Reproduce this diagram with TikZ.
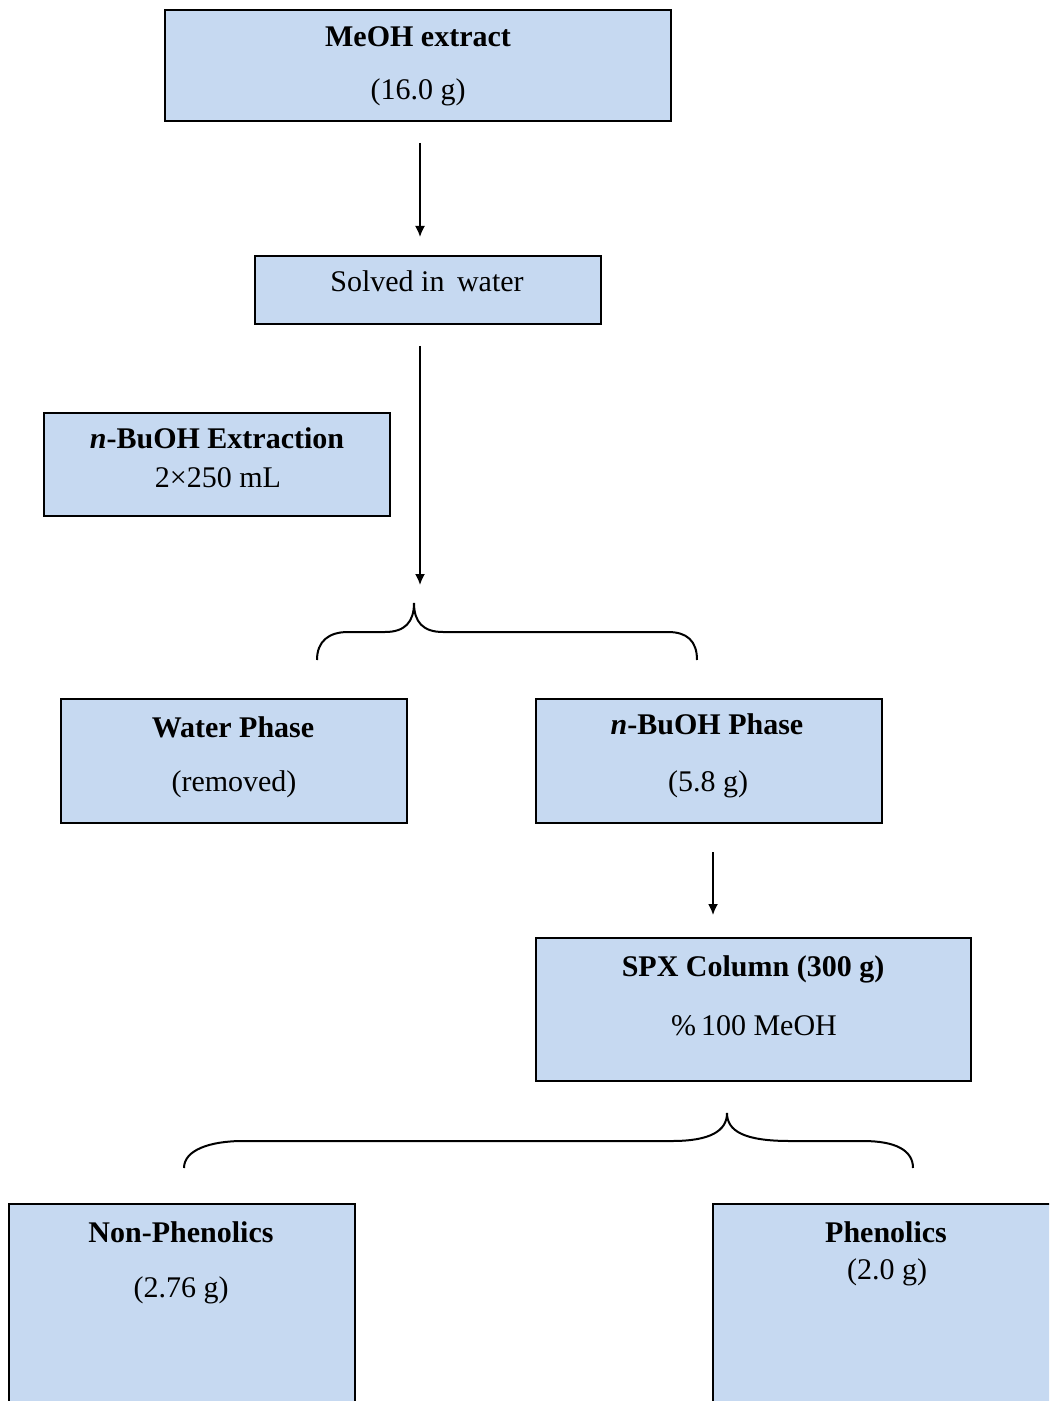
\documentclass[tikz,border=0pt]{standalone}
\usepackage{fontspec}
\setmainfont{Liberation Serif}
\usetikzlibrary{arrows.meta}
\definecolor{boxblue}{HTML}{C6D9F1}
\newcommand{\nbu}{\textbf{\textit{n}}}

\begin{document}
\begin{tikzpicture}[x=0.5pt, y=-0.5pt,
    procbox/.style={draw, line width=1pt, fill=boxblue, inner sep=0pt},
    lbl/.style={anchor=base, inner sep=0pt, font=\fontsize{15}{18}\selectfont},
    arr/.style={line width=0.85pt, -{Latex[length=5.5pt, width=5pt]}},
    brace/.style={line width=1pt}]
  \useasboundingbox (0,0) rectangle (1049,1401);
  \clip (0,0) rectangle (1049,1401);
  \foreach \nm/\cx/\cy/\w/\h in {meoh/418/65.5/253/55.5, solved/428/290/173/34,
      extr/217/464.5/173/51.5, water/234/761/173/62, buoh/709/761/173/62,
      spx/753.5/1009.5/217.5/71.5, nonph/182/1322/173/118, phen/886/1322/173/118}
    { \node[procbox, minimum width=\w pt, minimum height=\h pt] (\nm) at (\cx,\cy) {}; }
  \node[lbl] (meohA) at (418,47) {\textbf{MeOH extract}};
  \node[lbl] (meohB) at (418,100) {(16.0 g)};
  \node[lbl] (solvedA) at (427,292) {Solved in\, water};
  \node[lbl] (extrA) at (217,448) {\nbu\textbf{-BuOH Extraction}};
  \node[lbl] (extrB) at (218,487) {2×250 mL};
  \node[lbl] (waterA) at (233,737) {\textbf{Water Phase}};
  \node[lbl] (waterB) at (234,791) {(removed)};
  \node[lbl] (buohA) at (707,734) {\nbu\textbf{-BuOH Phase}};
  \node[lbl] (buohB) at (708,791) {(5.8 g)};
  \node[lbl] (spxA) at (753,976) {\textbf{SPX Column (300 g)}};
  \node[lbl] (spxB) at (754,1035) {\%\,100 MeOH};
  \node[lbl] (nonphA) at (181,1242) {\textbf{Non-Phenolics}};
  \node[lbl] (nonphB) at (181,1297) {(2.76 g)};
  \node[lbl] (phenA) at (886,1242) {\textbf{Phenolics}};
  \node[lbl] (phenB) at (887,1279) {(2.0 g)};
  \coordinate (tipA) at (414,603);
  \coordinate (tipB) at (727,1113);
  \draw[arr, shorten <=10.5pt, shorten >=9pt] ([xshift=1pt]meoh.south) -- ([xshift=1pt]meoh.south |- solved.north);
  \draw[arr, shorten <=10.5pt, shorten >=9pt] ([xshift=-4pt]solved.south) -- ([xshift=-4pt]solved.south |- tipA);
  \draw[arr, shorten <=14pt, shorten >=11pt] ([xshift=2pt]buoh.south) -- ([xshift=2pt]buoh.south |- spx.north);
  \draw[brace] (317,660) .. controls (317,641) and (329,632) .. (348,632) -- (385,632)
    .. controls (405,632) and (414,622) .. (tipA) .. controls (414,622) and (423,632) .. (443,632)
    -- (668,632) .. controls (687,632) and (697,641) .. (697,660);
  \draw[brace] (184,1168) .. controls (184,1150) and (210,1141) .. (243,1141) -- (672,1141)
    .. controls (710,1141) and (727,1131) .. (tipB) .. controls (727,1131) and (744,1141) .. (790,1141)
    -- (863,1141) .. controls (895,1141) and (913,1150) .. (913,1168);
\end{tikzpicture}
\end{document}
